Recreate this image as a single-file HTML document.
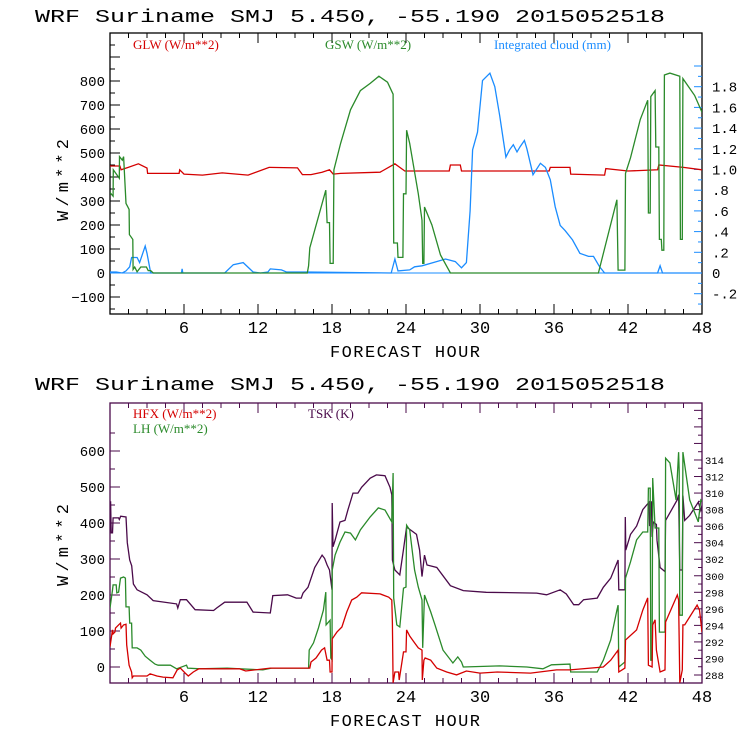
<!DOCTYPE html>
<html><head><meta charset="utf-8"><style>
html,body{margin:0;padding:0;background:#fff;}
svg{display:block;}
text{font-family:"Liberation Mono",monospace;}
.leg{font-family:"Liberation Serif",serif;font-size:13px;}
</style></head><body>
<svg id="chart" width="740" height="740" viewBox="0 0 740 740">
<defs>
<clipPath id="c1"><rect x="110" y="33" width="592" height="281"/></clipPath>
<clipPath id="c2"><rect x="110" y="403" width="592" height="280"/></clipPath>
</defs>
<g id="g1"></g>
<g id="g2"></g>
</svg>
<script>
// ---- data (top panel) ----
const glwT=[0,0.8,0.9,2.3,3.0,3.05,5.6,5.65,6.0,7.5,9.1,11.2,12.9,12.95,15.2,15.6,16.3,17.2,17.8,18.1,18.7,21.9,23.1,23.5,23.9,25.5,27.5,27.6,28.4,28.5,35.6,35.7,37.3,37.35,40.1,40.2,42,44.4,44.5,46.5,48];
const glwV=[446,446,430,455,437,415,415,430,412,408,417,408,440,440,438,410,410,420,430,412,415,420,455,440,425,425,425,450,450,425,425,440,440,412,408,435,425,430,450,440,430];
const gswT=[0,0.25,0.27,0.75,0.77,1.0,1.1,1.3,1.55,1.57,1.85,1.87,2.0,2.2,2.5,2.95,3.1,3.3,3.5,16.0,16.1,16.2,17.5,17.6,17.8,17.85,18.1,18.15,18.7,19.5,20.3,21.1,21.8,22.5,22.95,23.0,23.3,23.35,23.75,23.8,24.0,24.05,24.3,25.0,25.3,25.35,25.45,25.5,26.1,26.8,27.6,39.6,41.1,41.2,41.75,41.8,42.2,43.0,43.6,43.65,43.8,43.85,44.2,44.25,44.5,44.55,44.7,44.75,44.9,44.95,45.4,46.2,46.25,46.4,46.45,47.4,48];
const gswV=[335,320,430,395,485,470,485,290,265,160,140,15,25,5,25,25,10,10,0,0,30,105,345,210,210,40,40,430,540,680,760,790,820,795,745,125,125,65,65,330,330,595,540,330,220,40,40,275,200,75,0,0,305,12,12,415,480,640,720,250,250,735,760,525,525,140,140,95,95,825,833,820,140,140,810,740,670];
const cldT=[0,0.5,1.0,1.3,1.6,1.75,2.2,2.4,2.85,3.0,3.3,5.8,5.85,5.9,9.3,10,10.8,11.6,12.2,12.8,13.0,13.9,14.3,16,22.8,23.1,23.35,24.3,24.7,25.3,26.2,27.2,28,28.5,28.9,29.2,29.4,29.8,30.2,30.8,31.2,31.6,31.9,32.1,32.4,32.7,33,33.25,33.6,33.8,34.3,34.9,35.3,35.7,36.1,36.5,36.9,37.5,38.1,38.8,39.2,39.7,40.1,44.4,44.6,44.8,48];
const cldV=[0.01,0.01,0,0.02,0.06,0.15,0.15,0.1,0.26,0.19,0,0,0.04,0,0,0.08,0.1,0.01,0,0.01,0.04,0.03,0.01,0.01,0,0.135,0.02,0.03,0.06,0.07,0.1,0.135,0.11,0.05,0.1,0.6,1.19,1.36,1.86,1.93,1.8,1.52,1.28,1.12,1.19,1.24,1.17,1.22,1.28,1.2,0.95,1.06,1.02,0.9,0.64,0.46,0.41,0.32,0.19,0.16,0.16,0.06,0,0,0.07,0,0];
const leftTicks1=[-100,0,100,200,300,400,500,600,700,800];
const rightTicks1=[-0.2,0,0.2,0.4,0.6,0.8,1.0,1.2,1.4,1.6,1.8];
const rightLabels1=["-.2","0",".2",".4",".6",".8","1.0","1.2","1.4","1.6","1.8"];
const xTicks=[6,12,18,24,30,36,42,48];
// ---- data (bottom panel) ----
const tskT=[0,0.05,0.1,0.2,0.25,0.7,0.75,0.87,1.3,1.4,1.6,1.76,1.9,2.2,3,3.5,5.4,5.5,5.7,6.2,6.9,8.4,8.65,9.3,11.1,11.6,13,13.2,14.4,15.1,15.5,15.65,16.05,16.6,17.2,17.4,17.6,17.8,18.0,18.02,18.08,18.25,18.65,19.05,19.3,19.7,20.1,20.4,21.1,21.6,22.3,22.7,22.85,22.9,23.1,23.5,23.8,24.05,24.85,25.1,25.3,25.5,25.7,26.5,27.6,28.65,30.5,34.6,35.4,36.5,37,37.6,38,38.4,39.5,40,40.6,41.2,41.25,41.75,41.78,41.82,42.2,42.7,43.2,43.7,43.75,43.9,43.95,44.05,44.3,44.35,44.6,45,45.05,46,46.1,46.2,46.4,46.45,46.6,47,47.7,47.9,48];
const tskV=[306,309,305.2,305.2,307,307,306.8,307.2,307.1,304,301.9,301.2,299,298.3,297.7,297,296.6,296.1,297.1,297.1,295.9,295.8,296.1,296.8,296.8,295.6,295.5,297.6,297.7,297.3,297.3,297.9,298.6,301,302.5,302.1,301.3,300.7,298.3,308.8,303.5,304.3,306.5,306.7,308,310,310,310.7,311.8,312.2,312.1,310.7,309.8,301.9,300.7,300.1,303.2,305.9,305,303.1,299.9,302.5,301.3,301,298.8,298.2,298,297.9,297.7,298.3,297.8,296.5,296.5,297.1,297.3,298.6,299.7,301.9,298.3,298.3,307.1,303.1,305,306,308,308.9,306,309,304.7,306.5,306.2,304.3,301,300.5,306.7,309.2,309.8,300.7,300.7,309.7,306.7,307.3,308.9,307.9,308.5];
const lhT=[0,0.2,0.25,0.5,0.55,0.7,0.85,1.1,1.25,1.3,1.55,1.6,1.75,1.8,2.2,2.5,2.85,3.25,3.65,3.9,4.9,5.4,6.2,6.3,7.3,9.5,10.5,12.4,13.1,16.1,16.15,16.5,16.9,17.3,17.5,17.52,17.85,17.9,18.0,18.02,18.25,18.65,19.05,19.5,19.9,20.3,21.1,21.75,22.3,22.85,22.95,23.0,23.25,23.5,23.8,24.0,24.05,24.3,24.7,25.0,25.3,25.35,25.5,26,26.35,27,27.8,28.2,28.5,28.65,31.6,33.8,35.1,35.8,37.3,37.35,39.5,40,40.6,41.1,41.2,41.25,41.75,41.8,42.2,42.7,43.2,43.6,43.65,43.8,43.85,43.95,44.0,44.2,44.5,44.55,45,45.05,45.4,45.9,46.1,46.15,46.2,46.4,46.45,47,47.7,47.9,48];
const lhV=[164,214,228,228,206,208,247,250,247,167,167,122,122,53,53,47,30,19,8,5,5,-5,5,-3,-5,-3,-5,-8,-3,-3,47,67,108,158,208,117,130,25,20,269,311,347,375,372,353,381,417,442,436,403,539,192,117,111,219,222,394,381,269,222,186,53,200,153,117,47,11,28,14,0,3,0,-5,6,8,-14,-14,19,75,158,172,0,14,247,292,353,375,375,497,497,19,19,525,386,386,97,97,580,567,464,597,544,144,144,597,464,403,464,460];
const hfxT=[0,0.2,0.25,0.4,0.45,0.7,0.85,0.9,1.1,1.3,1.35,1.55,1.75,1.8,1.9,3,3.25,3.8,4.3,5.1,5.45,5.7,6.1,6.35,6.75,7.2,10.5,11,13,16.2,16.3,16.7,17.15,17.4,17.6,17.8,17.85,18.0,18.02,18.4,18.8,19.2,19.6,20,20.4,21.9,22.6,22.85,22.9,22.95,23.1,23.4,23.45,23.8,24.0,24.05,24.3,24.7,25,25.3,25.32,25.45,25.55,26,26.5,27.3,28.1,28.9,30,31.4,34.1,36.2,37.3,40,40.6,41.2,41.25,41.75,41.8,42.7,43.2,43.6,43.65,43.95,44.0,44.2,44.3,44.6,45,45.05,46,46.1,46.2,46.4,46.45,46.6,47.6,47.8,48];
const hfxV=[56,103,92,97,108,117,122,108,117,119,61,5,-14,-30,-25,-25,-19,-25,-28,-30,-8,-3,-17,-25,-14,-5,-5,-11,-3,-3,14,25,47,53,19,19,-14,-14,78,97,111,153,186,194,206,203,194,186,122,-44,-14,-14,-36,42,42,103,86,67,53,47,-36,19,25,19,-3,-14,-22,-11,-17,-14,-17,-8,-8,0,19,47,-14,-3,75,103,158,192,5,0,117,131,47,-14,-8,125,200,186,-44,-8,117,117,172,158,97];
const leftTicks2=[0,100,200,300,400,500,600];
const rightTicks2=[288,290,292,294,296,298,300,302,304,306,308,310,312,314];

const NS="http://www.w3.org/2000/svg";
function mk(parent,tag,attrs,txt){const e=document.createElementNS(NS,tag);for(const k in attrs)e.setAttribute(k,attrs[k]);if(txt!==undefined)e.textContent=txt;parent.appendChild(e);return e;}
const X0=110,X1=702;
const xs=t=>X0+(X1-X0)*t/48;
// top panel scales
const y1=v=>273-v*0.24;
const y1r=v=>273-v*103.5;
// bottom scales
const y2=v=>667-v*0.36;
const y2r=k=>675-(k-288)*8.27;

function pts(T,V,fy){return T.map((t,i)=>xs(t).toFixed(1)+","+fy(V[i]).toFixed(1)).join(" ");}

function panel(g,top,bot,color,titleY){
  const t=mk(g,"text",{x:35,y:titleY,"font-size":18,textLength:630,lengthAdjust:"spacingAndGlyphs",fill:"#000"},"WRF  Suriname SMJ  5.450, -55.190  2015052518");
  
  
  const r=mk(g,"rect",{x:X0,y:top,width:X1-X0,height:bot-top,fill:"none",stroke:color,"stroke-width":1.3});
  
  
  // x ticks
  for(let h=1.5;h<48;h+=1.5){
    const maj=(h%6===0);const L=maj?10:5;const x=xs(h);
    mk(g,"line",{x1:x,y1:bot,x2:x,y2:bot-L,stroke:color});
    mk(g,"line",{x1:x,y1:top,x2:x,y2:top+L,stroke:color});
  }
  xTicks.forEach(h=>{
    const lb=mk(g,"text",{x:xs(h),y:bot+19,"font-size":17,"text-anchor":"middle",fill:"#000"},String(h).replace(/0/g,"0"));
    
    
  });
  const xt=mk(g,"text",{x:405,y:bot+43,"font-size":17,"text-anchor":"middle",textLength:150,fill:"#000"},"FORECAST HOUR");
  
  
}

// ---------- TOP ----------
const g1=document.getElementById("g1");
panel(g1,33,314,"#000",22);
for(let v=-150;v<=950;v+=50){const y=y1(v);if(y<33||y>314)continue;const L=(v%100===0)?10:5;mk(g1,"line",{x1:X0,y1:y,x2:X0+L,y2:y,stroke:"#000"});}
leftTicks1.forEach(v=>{
  const lb=mk(g1,"text",{x:105,y:y1(v)+5,"font-size":14,"text-anchor":"end",fill:"#000"},String(v).replace("-","−"));
  
  
});
for(let v=-0.4;v<=2.1;v+=0.1){const y=y1r(v);if(y<33||y>314)continue;const k=Math.round(v*10);const L=(k%2===0)?8:4;mk(g1,"line",{x1:X1,y1:y,x2:X1-L,y2:y,stroke:"#1a8cff"});}
rightTicks1.forEach((v,i)=>{
  const lb=mk(g1,"text",{x:712,y:y1r(v)+5,"font-size":14,fill:"#000"},rightLabels1[i]);
  
  
});
const yt1=mk(g1,"text",{x:0,y:0,"font-size":17,"text-anchor":"middle",transform:"translate(68,180) rotate(-90)",textLength:82,fill:"#000"},"W/m**2");


const cg1=mk(g1,"g",{"clip-path":"url(#c1)"});
mk(cg1,"line",{x1:X0,y1:y1(0),x2:X1,y2:y1(0),stroke:"#1a8cff","stroke-width":1});
const sGlw=mk(cg1,"polyline",{points:pts(glwT,glwV,y1),fill:"none",stroke:"#d40000","stroke-width":1.3});


const sCld=mk(cg1,"polyline",{points:pts(cldT,cldV,y1r),fill:"none",stroke:"#1a8cff","stroke-width":1.3});


const sGsw=mk(cg1,"polyline",{points:pts(gswT,gswV,y1),fill:"none",stroke:"#2a8a2a","stroke-width":1.3});


const l1=mk(g1,"text",{x:133,y:49,class:"leg",fill:"#d40000"},"GLW (W/m**2)");


const l2=mk(g1,"text",{x:325,y:49,class:"leg",fill:"#2a8a2a"},"GSW (W/m**2)");


const l3=mk(g1,"text",{x:494,y:49,class:"leg",fill:"#1a8cff"},"Integrated cloud (mm)");



// ---------- BOTTOM ----------
const g2=document.getElementById("g2");
const PUR="#4a0a4a";
panel(g2,403,683,PUR,390);
for(let v=-50;v<=650;v+=50){const y=y2(v);if(y<403||y>683)continue;const L=(v%100===0)?10:5;mk(g2,"line",{x1:X0,y1:y,x2:X0+L,y2:y,stroke:PUR});}
leftTicks2.forEach(v=>{
  const lb=mk(g2,"text",{x:105,y:y2(v)+5,"font-size":14,"text-anchor":"end",fill:"#000"},String(v));
  
  
});
for(let k=286;k<=322;k+=1){const y=y2r(k);if(y<403||y>683)continue;const L=(k%2===0)?8:4;mk(g2,"line",{x1:X1,y1:y,x2:X1-L,y2:y,stroke:PUR});}
rightTicks2.forEach(k=>{
  const lb=mk(g2,"text",{x:705,y:y2r(k)+4,"font-size":10.5,fill:"#000"},String(k));
  
  
});
const yt2=mk(g2,"text",{x:0,y:0,"font-size":17,"text-anchor":"middle",transform:"translate(68,545) rotate(-90)",textLength:82,fill:"#000"},"W/m**2");


const cg2=mk(g2,"g",{"clip-path":"url(#c2)"});
const sTsk=mk(cg2,"polyline",{points:pts(tskT,tskV,y2r),fill:"none",stroke:PUR,"stroke-width":1.3});


const sLh=mk(cg2,"polyline",{points:pts(lhT,lhV,y2),fill:"none",stroke:"#2a8a2a","stroke-width":1.3});


const sHfx=mk(cg2,"polyline",{points:pts(hfxT,hfxV,y2),fill:"none",stroke:"#d40000","stroke-width":1.3});


const l4=mk(g2,"text",{x:133,y:418,class:"leg",fill:"#d40000"},"HFX (W/m**2)");


const l5=mk(g2,"text",{x:133,y:433,class:"leg",fill:"#2a8a2a"},"LH  (W/m**2)");


const l6=mk(g2,"text",{x:308,y:418,class:"leg",fill:PUR},"TSK (K)");


</script>
</body></html>
